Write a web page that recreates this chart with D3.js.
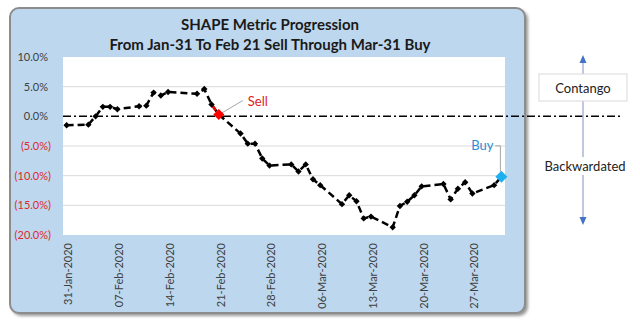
<!DOCTYPE html>
<html lang="en">
<head>
<meta charset="UTF-8">
<title>SHAPE Metric Progression</title>
<script src="https://cdn.jsdelivr.net/npm/d3@7"></script>
<style>
  body { margin: 0; background: #fff; }
  svg { display: block; font-family: Lato, "Open Sans", sans-serif; }
</style>
</head>
<body>
<script>
// trading days and the SHAPE metric (in %)
var dates = ["2020-01-31","2020-02-03","2020-02-04","2020-02-05","2020-02-06","2020-02-07",
  "2020-02-10","2020-02-11","2020-02-12","2020-02-13","2020-02-14",
  "2020-02-18","2020-02-19","2020-02-20","2020-02-21",
  "2020-02-24","2020-02-25","2020-02-26","2020-02-27","2020-02-28",
  "2020-03-02","2020-03-03","2020-03-04","2020-03-05","2020-03-06",
  "2020-03-09","2020-03-10","2020-03-11","2020-03-12","2020-03-13",
  "2020-03-16","2020-03-17","2020-03-18","2020-03-19","2020-03-20",
  "2020-03-23","2020-03-24","2020-03-25","2020-03-26","2020-03-27",
  "2020-03-30","2020-03-31"];
var values = [-1.5,-1.4,0.0,1.6,1.6,1.2,
  1.7,1.8,4.0,3.5,4.1,
  3.8,4.6,2.0,0.3,
  -2.9,-4.6,-4.6,-7.1,-8.3,
  -8.1,-9.3,-8.1,-10.6,-11.6,
  -14.8,-13.3,-14.3,-17.2,-16.9,
  -18.7,-15.1,-14.4,-13.3,-11.8,
  -11.4,-14.0,-12.2,-11.1,-13.0,
  -11.6,-10.2];
var xTicks = ["2020-01-31","2020-02-07","2020-02-14","2020-02-21","2020-02-28",
  "2020-03-06","2020-03-13","2020-03-20","2020-03-27"];
var yTicks = [10, 5, 0, -5, -10, -15, -20];
var sellDate = "2020-02-21", buyDate = "2020-03-31";
var titleLines = ["SHAPE Metric Progression", "From Jan-31 To Feb 21 Sell Through Mar-31 Buy"];

var parse = d3.utcParse("%Y-%m-%d");
var fmtDate = d3.utcFormat("%d-%b-%Y");
var data = dates.map(function(d, i) { return { date: parse(d), value: values[i] }; });

var svg = d3.select("body").append("svg")
  .attr("width", 640).attr("height", 322);

// chart frame
var defs = svg.append("defs");
defs.append("filter").attr("id", "shadow")
  .attr("x", "-5%").attr("y", "-5%").attr("width", "110%").attr("height", "110%")
  .append("feGaussianBlur").attr("stdDeviation", 1.5);

svg.append("rect").attr("x", 12).attr("y", 10).attr("width", 516).attr("height", 306)
  .attr("rx", 9).attr("fill", "#9a9a9a").attr("filter", "url(#shadow)");
svg.append("rect").attr("x", 10).attr("y", 8).attr("width", 515).attr("height", 305)
  .attr("rx", 9).attr("fill", "#bdd7ee").attr("stroke", "#8c8c8c").attr("stroke-width", 2);

var plot = { left: 63, right: 505, top: 57, bottom: 235 };

svg.append("rect").attr("x", plot.left).attr("y", plot.top)
  .attr("width", plot.right - plot.left).attr("height", plot.bottom - plot.top)
  .attr("fill", "#fff");

var x = d3.scaleUtc()
  .domain([d3.utcHour.offset(data[0].date, -12), d3.utcHour.offset(data[data.length - 1].date, 12)])
  .range([plot.left, plot.right]);
var y = d3.scaleLinear().domain([-20, 10]).range([plot.bottom, plot.top]);

// title
svg.selectAll(".title").data(titleLines).enter().append("text")
  .attr("x", 270).attr("y", function(d, i) { return 30 + i * 20; })
  .attr("text-anchor", "middle").attr("font-size", 15).attr("font-weight", "bold")
  .attr("fill", "#1a1a1a").text(function(d) { return d; });

// gridlines
svg.selectAll(".grid").data(yTicks.filter(function(v) { return v !== 0 && v !== 10 && v !== -20; }))
  .enter().append("line")
  .attr("x1", plot.left).attr("x2", plot.right)
  .attr("y1", function(d) { return y(d); }).attr("y2", function(d) { return y(d); })
  .attr("stroke", "#d9d9d9").attr("stroke-width", 1);

// y axis labels
svg.selectAll(".ylab").data(yTicks).enter().append("text")
  .attr("x", function(d) { return d < 0 ? 51 : 48; })
  .attr("y", function(d) { return y(d); })
  .attr("dy", "0.35em").attr("text-anchor", "end").attr("font-size", 11)
  .attr("fill", function(d) { return d < 0 ? "#e02828" : "#404040"; })
  .text(function(d) {
    var s = Math.abs(d).toFixed(1) + "%";
    return d < 0 ? "(" + s + ")" : s;
  });

// x axis labels
svg.selectAll(".xlab").data(xTicks.map(parse)).enter().append("text")
  .attr("transform", function(d) { return "translate(" + (x(d) + 2) + ",243) rotate(-90)"; })
  .attr("dy", "0.35em").attr("text-anchor", "end").attr("font-size", 11)
  .attr("fill", "#404040").text(function(d) { return fmtDate(d); });

// zero line, runs past the chart to the side note
svg.append("line").attr("x1", plot.left).attr("x2", 621)
  .attr("y1", y(0)).attr("y2", y(0))
  .attr("stroke", "#000").attr("stroke-width", 1.5).attr("stroke-dasharray", "8,3,2,3");

// series
var line = d3.line().x(function(d) { return x(d.date); }).y(function(d) { return y(d.value); });
svg.append("path").datum(data)
  .attr("fill", "none").attr("stroke", "#000").attr("stroke-width", 2.5)
  .attr("stroke-dasharray", "7,4").attr("d", line);

var sellIdx = dates.indexOf(sellDate), buyIdx = dates.indexOf(buyDate);
svg.append("path").datum(data.slice(sellIdx - 1, sellIdx + 1))
  .attr("fill", "none").attr("stroke", "#ff0000").attr("stroke-width", 2.5)
  .attr("stroke-dasharray", "7,4").attr("d", line);

function diamond(r) { return "M0," + (-r) + "L" + r + ",0L0," + r + "L" + (-r) + ",0Z"; }

svg.selectAll(".pt").data(data.filter(function(d, i) { return i !== sellIdx && i !== buyIdx; }))
  .enter().append("path")
  .attr("transform", function(d) { return "translate(" + x(d.date) + "," + y(d.value) + ")"; })
  .attr("d", diamond(3.2)).attr("fill", "#000");

var sell = data[sellIdx], buy = data[buyIdx];
var sx = x(sell.date), sy = y(sell.value), bx = x(buy.date), by = y(buy.value);

// sell callout
svg.append("line").attr("x1", sx + 2).attr("y1", sy - 1).attr("x2", sx + 24).attr("y2", sy - 14)
  .attr("stroke", "#a6a6a6").attr("stroke-width", 1);
svg.append("text").attr("x", sx + 29).attr("y", sy - 13).attr("dy", "0.35em")
  .attr("font-size", 13).attr("fill", "#e02020").text("Sell");
svg.append("path").attr("transform", "translate(" + sx + "," + sy + ")")
  .attr("d", diamond(5.5)).attr("fill", "#ff0000");

// buy callout
svg.append("polyline")
  .attr("points", [[bx - 6, by - 31], [bx - 1, by - 31], [bx - 1, by - 5]].join(" "))
  .attr("fill", "none").attr("stroke", "#a6a6a6").attr("stroke-width", 1);
svg.append("text").attr("x", bx - 8).attr("y", by - 31).attr("dy", "0.35em")
  .attr("text-anchor", "end").attr("font-size", 13).attr("fill", "#2e8bd6").text("Buy");
svg.append("path").attr("transform", "translate(" + bx + "," + by + ")")
  .attr("d", diamond(6)).attr("fill", "#1cb0f0");

// side note: contango / backwardated arrow
var ax = 583;
svg.append("line").attr("x1", ax).attr("x2", ax).attr("y1", 60).attr("y2", 220)
  .attr("stroke", "#a9b6d6").attr("stroke-width", 1.5);
svg.append("path").attr("d", "M" + ax + ",55L" + (ax + 3.5) + ",63L" + (ax - 3.5) + ",63Z").attr("fill", "#4472c4");
svg.append("path").attr("d", "M" + ax + ",225L" + (ax + 3.5) + ",217L" + (ax - 3.5) + ",217Z").attr("fill", "#4472c4");

svg.append("rect").attr("x", 539).attr("y", 74).attr("width", 88).attr("height", 27)
  .attr("fill", "#fff").attr("stroke", "#d9d9d9");
svg.append("text").attr("x", ax).attr("y", 88).attr("dy", "0.35em").attr("text-anchor", "middle")
  .attr("font-size", 13).attr("fill", "#222").text("Contango");

svg.append("rect").attr("x", 542).attr("y", 157).attr("width", 86).attr("height", 18).attr("fill", "#fff");
svg.append("text").attr("x", 585).attr("y", 166).attr("dy", "0.35em").attr("text-anchor", "middle")
  .attr("font-size", 13).attr("fill", "#222").text("Backwardated");
</script>
</body>
</html>
